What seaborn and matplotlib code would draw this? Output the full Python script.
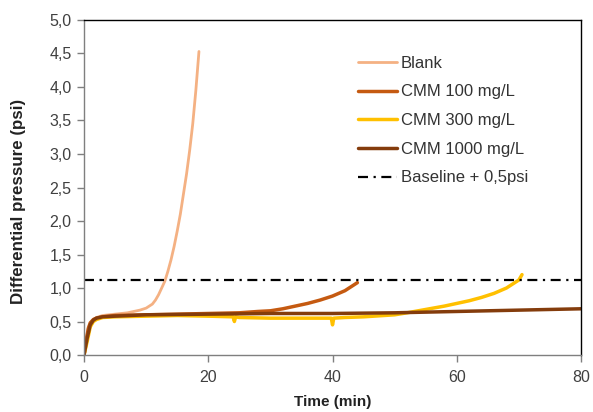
import matplotlib
matplotlib.use("Agg")
import matplotlib.pyplot as plt
import seaborn as sns
import pandas as pd
from matplotlib.ticker import FuncFormatter, MultipleLocator

# ---- data ----
blank_t = [0, 0.3, 0.7, 1, 1.5, 2, 3, 5, 7, 8, 9, 10, 11, 11.5, 12, 12.5, 13, 13.5, 14,
           14.5, 15, 15.5, 16, 16.5, 17, 17.5, 18, 18.5]
blank_p = [0, 0.2, 0.4, 0.48, 0.53, 0.56, 0.59, 0.61, 0.63, 0.65, 0.67, 0.7, 0.76, 0.82,
           0.9, 1.0, 1.1, 1.25, 1.42, 1.62, 1.85, 2.1, 2.4, 2.7, 3.05, 3.45, 3.95, 4.53]

cmm100_t = [0, 0.3, 0.7, 1, 1.5, 2, 3, 5, 10, 15, 20, 25, 28, 30, 32, 34, 36, 38, 40, 42, 44]
cmm100_p = [0, 0.2, 0.4, 0.48, 0.53, 0.55, 0.57, 0.59, 0.6, 0.61, 0.62, 0.63, 0.65, 0.66,
            0.69, 0.73, 0.77, 0.82, 0.88, 0.96, 1.08]

cmm300_t = [0, 0.5, 1, 1.5, 2, 3, 5, 10, 15, 20, 24, 24.2, 24.4, 25, 30, 35, 38, 39.8, 40,
            40.2, 42, 45, 50, 52, 55, 58, 60, 62, 64, 66, 68, 70, 70.5]
cmm300_p = [0, 0.2, 0.42, 0.5, 0.53, 0.56, 0.57, 0.58, 0.59, 0.58, 0.57, 0.5, 0.57, 0.56,
            0.55, 0.55, 0.55, 0.55, 0.45, 0.55, 0.56, 0.57, 0.6, 0.63, 0.68, 0.73, 0.77,
            0.81, 0.86, 0.92, 1.0, 1.12, 1.2]

cmm1000_t = [0, 0.5, 1, 1.5, 2, 3, 5, 10, 20, 30, 40, 50, 60, 70, 80]
cmm1000_p = [0, 0.25, 0.45, 0.52, 0.55, 0.57, 0.58, 0.6, 0.61, 0.62, 0.62, 0.63, 0.65, 0.67, 0.69]

baseline_t = [0, 80]
baseline_p = [1.12, 1.12]

labels = ["Blank", "CMM 100 mg/L", "CMM 300 mg/L", "CMM 1000 mg/L"]
colors = ["#F4B183", "#C55A11", "#FFC000", "#843C0C"]
widths = [2.0, 2.5, 2.5, 2.5]

sns.set_theme(style="white")
plt.rcParams["font.family"] = ["Liberation Sans", "DejaVu Sans"]

fig = plt.figure(figsize=(5.93, 4.12), dpi=100)
ax = fig.add_axes([0.1417, 0.1383, 0.8381, 0.8132])

series = [(blank_t, blank_p), (cmm100_t, cmm100_p), (cmm300_t, cmm300_p), (cmm1000_t, cmm1000_p)]
for (t, p), lab, c, w in zip(series, labels, colors, widths):
    df = pd.DataFrame({"t": t, "p": p})
    sns.lineplot(data=df, x="t", y="p", ax=ax, color=c, lw=w, label=lab,
                 estimator=None, sort=False)

dfb = pd.DataFrame({"t": baseline_t, "p": baseline_p})
sns.lineplot(data=dfb, x="t", y="p", ax=ax, color="black", lw=1.6,
             linestyle=(0, (4.5, 2.5, 1, 2.5)), label="Baseline + 0,5psi",
             estimator=None, sort=False)

ax.set_xlim(0, 80)
ax.set_ylim(0, 5)
ax.xaxis.set_major_locator(MultipleLocator(20))
ax.yaxis.set_major_locator(MultipleLocator(0.5))
ax.yaxis.set_major_formatter(FuncFormatter(lambda v, pos: f"{v:.1f}".replace(".", ",")))

for side in ["left", "bottom"]:
    ax.spines[side].set_color("#7f7f7f")
    ax.spines[side].set_linewidth(1.0)
for side in ["top", "right"]:
    ax.spines[side].set_color("black")
    ax.spines[side].set_linewidth(1.0)
    ax.spines[side].set_visible(True)

ax.tick_params(axis="both", which="major", direction="out", length=5, width=1,
               color="#7f7f7f", labelsize=11.5, labelcolor="#404040",
               bottom=True, left=True)
ax.tick_params(axis="x", pad=6)
ax.tick_params(axis="y", pad=4)

ax.set_xlabel("Time (min)", fontsize=11, fontweight="bold", color="#222222")
ax.set_ylabel("Differential pressure (psi)", fontsize=12.2, fontweight="bold",
              color="#222222")
ax.yaxis.set_label_coords(-0.117, 0.457)
ax.xaxis.set_label_coords(0.5, -0.12)

leg = ax.legend(loc="upper left", bbox_to_anchor=(0.551, 0.893), frameon=False,
                fontsize=12, handlelength=2.33, handletextpad=0.25, labelspacing=0.82,
                borderaxespad=0, borderpad=0)
for txt in leg.get_texts():
    txt.set_color("#333333")

fig.savefig("out.png", dpi=100)
